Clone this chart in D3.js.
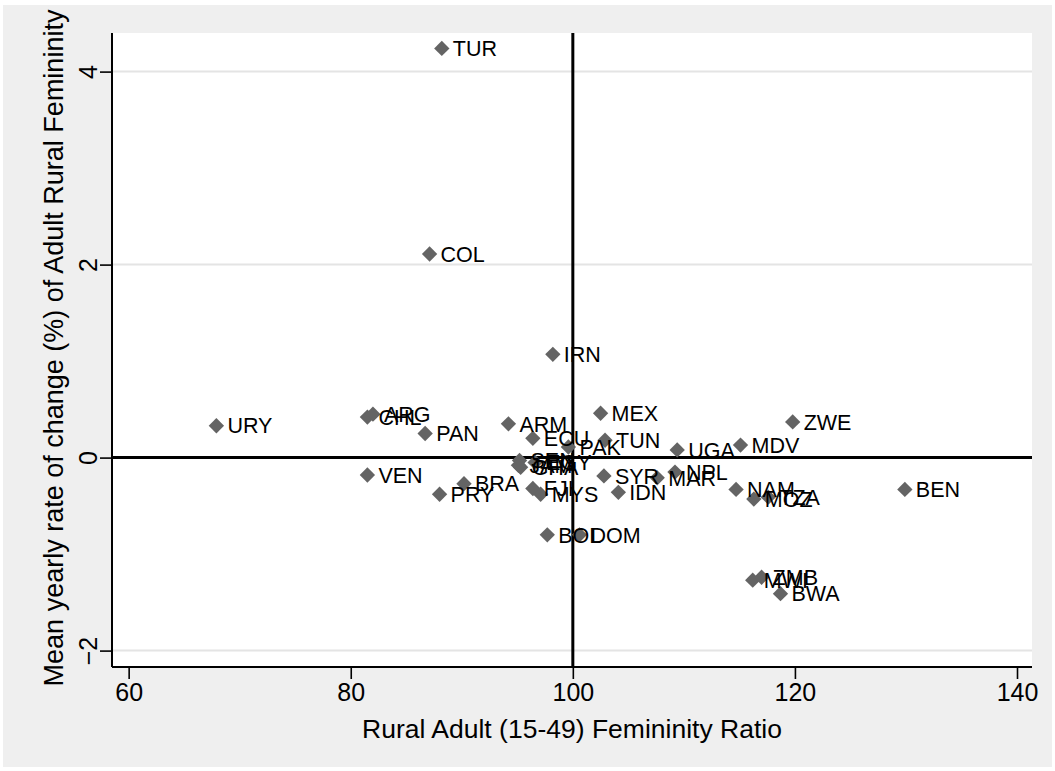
<!DOCTYPE html>
<html>
<head>
<meta charset="utf-8">
<script src="https://cdn.jsdelivr.net/npm/d3@7"></script>
<style>
  body { margin: 0; background: #fff; }
  text { font-family: "Liberation Sans", Arial, sans-serif; }
</style>
</head>
<body>
<script>
// country codes and their values
var codes = ["TUR","COL","IRN","URY","CHL","ARG","PAN","ARM","ECU","MEX","TUN","PAK","ZWE","UGA","MDV","BEN",
             "VEN","BRA","PRY","SEN","GHA","EGY","JAM","FJI","MYS","BOL","DOM","SYR","IDN","MAR","NPL","NAM",
             "MOZ","TZA","MWI","ZMB","BWA"];
var ratio = [88.2, 87.1, 98.2, 67.9, 81.5, 82.0, 86.7, 94.2, 96.4, 102.5, 102.9, 99.6, 119.8, 109.4, 115.1, 129.9,
             81.5, 90.2, 88.0, 95.2, 95.3, 96.6, 95.1, 96.4, 97.1, 97.7, 100.6, 102.8, 104.1, 107.6, 109.2, 114.7,
             116.3, 117.6, 116.2, 117.0, 118.7];
var change = [4.24, 2.11, 1.07, 0.33, 0.42, 0.45, 0.25, 0.35, 0.20, 0.46, 0.18, 0.11, 0.37, 0.08, 0.13, -0.33,
              -0.18, -0.27, -0.38, -0.03, -0.10, -0.05, -0.08, -0.32, -0.38, -0.80, -0.80, -0.19, -0.36, -0.21, -0.15, -0.33,
              -0.43, -0.41, -1.27, -1.24, -1.41];
var xTicks = [60, 80, 100, 120, 140];
var yTicks = [-2, 0, 2, 4];

var W = 1055, H = 771;
var plot = {left: 112, right: 1032, top: 33, bottom: 667};

var svg = d3.select("body").append("svg")
    .attr("width", W)
    .attr("height", H);

// outer gray panel
svg.append("rect")
    .attr("x", 3).attr("y", 5)
    .attr("width", W - 6).attr("height", H - 9)
    .attr("fill", "#efefef");

svg.append("rect")
    .attr("x", plot.left).attr("y", plot.top)
    .attr("width", plot.right - plot.left).attr("height", plot.bottom - plot.top)
    .attr("fill", "#fff");

var x = d3.scaleLinear().domain([58.5, 141.35]).range([plot.left, plot.right]);
var y = d3.scaleLinear().domain([-2.17, 4.40]).range([plot.bottom, plot.top]);

// horizontal grid lines
svg.selectAll("line.grid")
    .data(yTicks)
  .enter().append("line")
    .attr("class", "grid")
    .attr("x1", plot.left).attr("x2", plot.right)
    .attr("y1", function(d) { return y(d); })
    .attr("y2", function(d) { return y(d); })
    .attr("stroke", "#e4e4e4")
    .attr("stroke-width", 2);

// reference lines at x=100 and y=0
svg.append("line")
    .attr("x1", x(100)).attr("x2", x(100))
    .attr("y1", plot.top).attr("y2", plot.bottom)
    .attr("stroke", "#000").attr("stroke-width", 3);
svg.append("line")
    .attr("x1", plot.left).attr("x2", plot.right)
    .attr("y1", y(0)).attr("y2", y(0))
    .attr("stroke", "#000").attr("stroke-width", 3);

// axes
var xAxis = svg.append("g")
    .attr("transform", "translate(0," + plot.bottom + ")")
    .call(d3.axisBottom(x).tickValues(xTicks).tickSize(12).tickPadding(6));
var yAxis = svg.append("g")
    .attr("transform", "translate(" + plot.left + ",0)")
    .call(d3.axisLeft(y).tickValues(yTicks).tickSize(12).tickFormat(d3.format("d")));

[xAxis, yAxis].forEach(function(a) {
  a.select(".domain").attr("stroke", "#000").attr("stroke-width", 2);
  a.selectAll(".tick line").attr("stroke", "#000").attr("stroke-width", 1.6);
  a.selectAll("text")
      .attr("fill", "#000")
      .style("font-size", "25px")
      .style("font-family", "'Liberation Sans', Arial, sans-serif");
});
xAxis.select(".domain").attr("d", "M" + plot.left + ",0H" + plot.right);
yAxis.select(".domain").attr("d", "M0," + plot.top + "V" + plot.bottom);
xAxis.selectAll("text").attr("y", 16);

// rotated y tick labels
yAxis.selectAll(".tick text")
    .attr("x", null).attr("dy", null)
    .attr("text-anchor", "middle")
    .attr("transform", "translate(-15,0) rotate(-90)");

// axis titles
svg.append("text")
    .attr("x", (plot.left + plot.right) / 2)
    .attr("y", 738)
    .attr("text-anchor", "middle")
    .style("font-size", "26.5px")
    .text("Rural Adult (15-49) Femininity Ratio");

svg.append("text")
    .attr("transform", "translate(63," + ((plot.top + plot.bottom) / 2 - 2) + ") rotate(-90)")
    .attr("text-anchor", "middle")
    .style("font-size", "27px")
    .text("Mean yearly rate of change (%) of Adult Rural Femininity");

// markers and labels
var pts = codes.map(function(c, i) { return {code: c, rx: ratio[i], ch: change[i]}; });

var diamond = d3.symbol().type(d3.symbolDiamond2).size(150);

svg.selectAll("path.pt")
    .data(pts)
  .enter().append("path")
    .attr("class", "pt")
    .attr("d", diamond)
    .attr("transform", function(d) { return "translate(" + x(d.rx) + "," + y(d.ch) + ")"; })
    .attr("fill", "#646464");

svg.selectAll("text.lbl")
    .data(pts)
  .enter().append("text")
    .attr("class", "lbl")
    .attr("x", function(d) { return x(d.rx) + 11; })
    .attr("y", function(d) { return y(d.ch); })
    .attr("dy", "0.36em")
    .style("font-size", "21.5px")
    .text(function(d) { return d.code; });
</script>
</body>
</html>
